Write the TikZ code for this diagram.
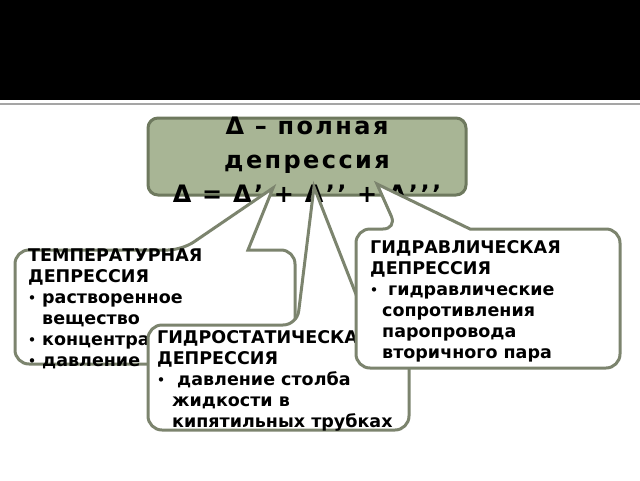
\documentclass[tikz,border=0pt]{standalone}
\usepackage{fontspec}
\setmainfont{DejaVu Sans}
\newfontfamily\boxfont{DejaVu Sans}[LetterSpace=10]
\definecolor{mainfill}{RGB}{168,181,149}
\definecolor{mainline}{RGB}{110,121,94}
\definecolor{callline}{RGB}{124,132,110}
\definecolor{topgray}{RGB}{165,165,165}
\newcommand\calloutpath[7]{%
  \draw[callout] (#7) -- (#6,#2) [rounded corners=14pt] -- (#3,#2) -- (#3,#4) -- (#1,#4) -- (#1,#2) -- (#5,#2) [sharp corners] -- cycle;}
\newcommand\bul[1]{\makebox[#1][l]{\raisebox{0.6pt}{\fontsize{12.5}{12.5}\selectfont •}}}
\begin{document}
\begin{tikzpicture}[x=1pt,y=-1pt,
  mainbox/.style={draw=mainline, line width=3pt, fill=mainfill, rounded corners=10pt},
  callout/.style={draw=callline, line width=3pt, fill=white, line join=miter},
  maintext/.style={font=\boxfont\bfseries\fontsize{24}{34}\selectfont, align=center, inner sep=0pt, anchor=base},
  calltext/.style={font=\bfseries\fontsize{17.5}{21}\selectfont, align=left, inner sep=0pt, anchor=base west}]
\useasboundingbox (0,0) rectangle (640,480);
\fill[black] (0,0) rectangle (640,100);
\draw[topgray, line width=1.5pt] (0,104) -- (640,104);
% main box
\draw[mainbox] (148,118) rectangle (466,195);
\node[maintext] (title) at (307,202) {Δ – полная\\депрессия\\Δ = Δ’ + Δ’’ + Δ’’’};
% apex points of the callout tails
\coordinate (apexT) at (273,188);
\coordinate (apexS) at (314,187);
\coordinate (apexH) at (377,184);
% temperature depression
\calloutpath{15}{250}{295}{364}{182}{248}{apexT}
\node[calltext] (temp) at (28,366) {ТЕМПЕРАТУРНАЯ\\ДЕПРЕССИЯ\\\bul{14pt}растворенное\\\hspace*{14pt}вещество\\\bul{14pt}концентрация\\\bul{14pt}давление};
% hydrostatic depression
\calloutpath{148}{325}{409}{430}{297}{368}{apexS}
\node[calltext] (hstat) at (157,427) {ГИДРОСТАТИЧЕСКАЯ\\ДЕПРЕССИЯ\\\bul{15pt}\hspace{5pt}давление столба\\\hspace*{15pt}жидкости в\\\hspace*{15pt}кипятильных трубках};
% hydraulic depression
\calloutpath{356}{229}{620}{368}{397}{470}{apexH}
\node[calltext] (hydr) at (370,358) {ГИДРАВЛИЧЕСКАЯ\\ДЕПРЕССИЯ\\\bul{12pt}\hspace{6pt}гидравлические\\\hspace*{12pt}сопротивления\\\hspace*{12pt}паропровода\\\hspace*{12pt}вторичного пара};
\end{tikzpicture}
\end{document}
